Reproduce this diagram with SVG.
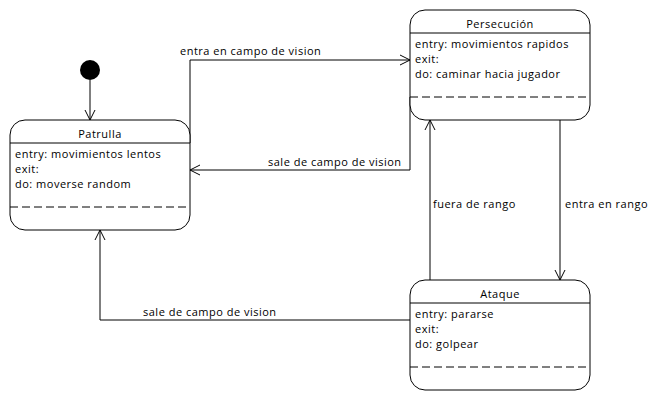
<svg xmlns="http://www.w3.org/2000/svg" width="670" height="400" viewBox="0 0 670 400">
  <style>
    .box { fill: #fff; stroke: #000; stroke-width: 1; }
    .sep { stroke: #000; stroke-width: 1; }
    .dash { stroke: #000; stroke-width: 1; stroke-dasharray: 8 4; }
    .edge { fill: none; stroke: #000; stroke-width: 1; }
    text { font-family: "Open Sans", "DejaVu Sans", sans-serif; font-size: 11px; letter-spacing: 0.5px; fill: #000; }
    .title { text-anchor: middle; }
  </style>
  <defs>
    <marker id="open" viewBox="0 0 12 12" refX="11" refY="6" markerWidth="12" markerHeight="12" markerUnits="userSpaceOnUse" orient="auto">
      <path d="M1,1 L11,6 L1,11" fill="none" stroke="#000" stroke-width="1"/>
    </marker>
  </defs>

  <rect width="670" height="400" fill="#fff"/>

  <g id="connectors">
    <path class="edge" d="M90,80 L90,120" marker-end="url(#open)"/>
    <path class="edge" d="M190,143 L190,60 L410,60" marker-end="url(#open)"/>
    <path class="edge" d="M410,97 L410,170 L190,170" marker-end="url(#open)"/>
    <path class="edge" d="M430,280 L430,120" marker-end="url(#open)"/>
    <path class="edge" d="M560,120 L560,280" marker-end="url(#open)"/>
    <path class="edge" d="M410,320 L100,320 L100,230" marker-end="url(#open)"/>
    <text x="180" y="55">entra en campo de vision</text>
    <text x="268" y="166">sale de campo de vision</text>
    <text x="433" y="208">fuera de rango</text>
    <text x="565" y="208">entra en rango</text>
    <text x="143" y="316">sale de campo de vision</text>
  </g>

  <g id="initial">
    <circle cx="90" cy="70" r="10" fill="#000"/>
  </g>

  <g id="patrulla">
    <rect class="box" x="10" y="120" width="180" height="110" rx="15" ry="15"/>
    <line class="sep" x1="10" y1="143" x2="190" y2="143"/>
    <text class="title" x="100" y="138">Patrulla</text>
    <text x="15" y="158">entry: movimientos lentos</text>
    <text x="15" y="173">exit:</text>
    <text x="15" y="188">do: moverse random</text>
    <line class="dash" x1="10" y1="207" x2="190" y2="207"/>
  </g>

  <g id="persecucion">
    <rect class="box" x="410" y="10" width="180" height="110" rx="15" ry="15"/>
    <line class="sep" x1="410" y1="33" x2="590" y2="33"/>
    <text class="title" x="500" y="28">Persecución</text>
    <text x="415" y="48">entry: movimientos rapidos</text>
    <text x="415" y="63">exit:</text>
    <text x="415" y="78">do: caminar hacia jugador</text>
    <line class="dash" x1="410" y1="97" x2="590" y2="97"/>
  </g>

  <g id="ataque">
    <rect class="box" x="410" y="280" width="180" height="110" rx="15" ry="15"/>
    <line class="sep" x1="410" y1="303" x2="590" y2="303"/>
    <text class="title" x="500" y="298">Ataque</text>
    <text x="415" y="318">entry: pararse</text>
    <text x="415" y="333">exit:</text>
    <text x="415" y="348">do: golpear</text>
    <line class="dash" x1="410" y1="367" x2="590" y2="367"/>
  </g>
</svg>
